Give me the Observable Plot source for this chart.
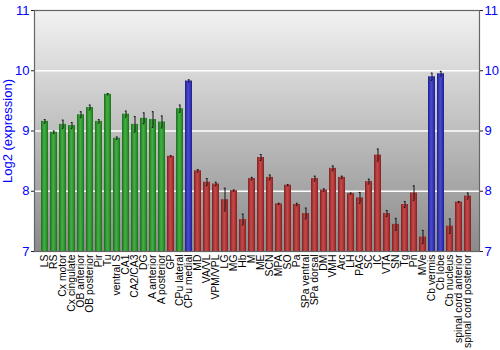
<!DOCTYPE html>
<html>
<head>
<meta charset="utf-8">
<script src="https://cdn.jsdelivr.net/npm/d3@7"></script>
<script src="https://cdn.jsdelivr.net/npm/@observablehq/plot@0.6"></script>
<style>
body { margin: 0; background: white; }
#chart svg { display: block; }
</style>
</head>
<body>
<div id="chart"></div>
<script>
const regions = ["LS","RS","Cx motor","Cx cingulate","OB anterior","OB posterior","Pir","Tu","ventral S","CA1","CA2/CA3","DG","A anterior","A posterior","GP","CPu lateral","CPu medial","MD","VA/VL","VPM/VPL","LG","MG","Hb","M","ME","SCN","MPA","SO","Pa","SPa ventral","SPa dorsal","DM","VMH","Arc","LH","PAG","SC","IC","VTA","SN","Tg","Pn","MVe","Cb vermis","Cb lobe","Cb nucleus","spinal cord anterior","spinal cord posterior"];
const expression = [9.16,8.98,9.11,9.09,9.27,9.39,9.16,9.61,8.88,9.28,9.11,9.21,9.19,9.15,8.58,9.37,9.83,8.34,8.15,8.12,7.86,8.01,7.53,8.21,8.56,8.23,7.79,8.10,7.78,7.63,8.21,8.02,8.38,8.23,7.96,7.89,8.16,8.60,7.63,7.45,7.78,7.97,7.24,9.90,9.95,7.42,7.82,7.92];
const stderr = [0.03,0.02,0.07,0.05,0.05,0.04,0.03,0.01,0.02,0.05,0.13,0.09,0.13,0.10,0.01,0.06,0.02,0.02,0.06,0.03,0.19,0.01,0.09,0.02,0.05,0.04,0.01,0.01,0.02,0.09,0.04,0.02,0.04,0.02,0.01,0.09,0.04,0.10,0.05,0.10,0.05,0.12,0.11,0.06,0.04,0.12,0.01,0.05];
const groups = ["g","g","g","g","g","g","g","g","g","g","g","g","g","g","r","g","b","r","r","r","r","r","r","r","r","r","r","r","r","r","r","r","r","r","r","r","r","r","r","r","r","r","r","b","b","r","r","r"];
const yTicks = [7,8,9,10,11];
const gridLines = [8,9,10];

const data = regions.map((name, i) => ({name, value: expression[i], err: stderr[i], group: groups[i]}));
const sel = g => data.filter(d => d.group === g);
const yLo = 7;

const plot = Plot.plot({
  width: 500,
  height: 350,
  marginTop: 10,
  marginBottom: 99,
  marginLeft: 34,
  marginRight: 21,
  style: {fontFamily: "'Liberation Sans', Arial, sans-serif", fontSize: "11px", background: "white"},
  x: {domain: regions, padding: 0.17, align: 0.5},
  y: {domain: [7, 11]},
  marks: [
    Plot.frame({fill: "url(#bgGrad)", stroke: null}),
    Plot.ruleY(gridLines, {stroke: "white", strokeWidth: 1.5}),
    Plot.barY(sel("g"), {x: "name", y1: yLo, y2: "value", fill: "url(#gradG)"}),
    Plot.barY(sel("r"), {x: "name", y1: yLo, y2: "value", fill: "url(#gradR)"}),
    Plot.barY(sel("b"), {x: "name", y1: yLo, y2: "value", fill: "url(#gradB)"}),
    Plot.ruleX(data, {x: "name", y1: d => d.value - d.err, y2: d => d.value + d.err, stroke: "#111", strokeWidth: 1}),
    Plot.tickY(data, {x: "name", y: d => d.value - d.err, stroke: "#111", insetLeft: 2.8, insetRight: 2.8}),
    Plot.tickY(data, {x: "name", y: d => d.value + d.err, stroke: "#111", insetLeft: 2.8, insetRight: 2.8}),
    Plot.frame({stroke: "#666", strokeWidth: 1.2}),
    Plot.axisY(yTicks, {anchor: "left", tickSize: 3, tickPadding: 2, tickFormat: "d", stroke: "#222", fill: "blue", fontSize: 13, label: "Log2 (expression)", labelAnchor: "center", labelOffset: 32, labelArrow: false}),
    Plot.axisY(yTicks, {anchor: "right", tickSize: 3, tickPadding: 2, tickFormat: "d", stroke: "#222", fill: "blue", fontSize: 13, label: null}),
    Plot.axisX({anchor: "bottom", tickRotate: -90, tickSize: 0, tickPadding: 3, fontSize: 10.4, label: null})
  ]
});

const svg = d3.select(plot);
const defs = svg.insert("defs", ":first-child");
const bg = defs.append("linearGradient").attr("id", "bgGrad").attr("x1", 0).attr("y1", 0).attr("x2", 0).attr("y2", 1);
bg.append("stop").attr("offset", "0%").attr("stop-color", "#f2f2f2");
bg.append("stop").attr("offset", "100%").attr("stop-color", "#8a8a8a");
function barGrad(id, dark, mid, light) {
  const g = defs.append("linearGradient").attr("id", id).attr("x1", 0).attr("y1", 0).attr("x2", 1).attr("y2", 0);
  g.append("stop").attr("offset", "0%").attr("stop-color", dark);
  g.append("stop").attr("offset", "45%").attr("stop-color", light);
  g.append("stop").attr("offset", "75%").attr("stop-color", mid);
  g.append("stop").attr("offset", "100%").attr("stop-color", dark);
}
barGrad("gradG", "#1c6e1c", "#2f982f", "#45b045");
barGrad("gradR", "#822020", "#b03434", "#c44c4c");
barGrad("gradB", "#1e1e8a", "#3434b8", "#4c4cd0");

document.getElementById("chart").appendChild(plot);
</script>
</body>
</html>
